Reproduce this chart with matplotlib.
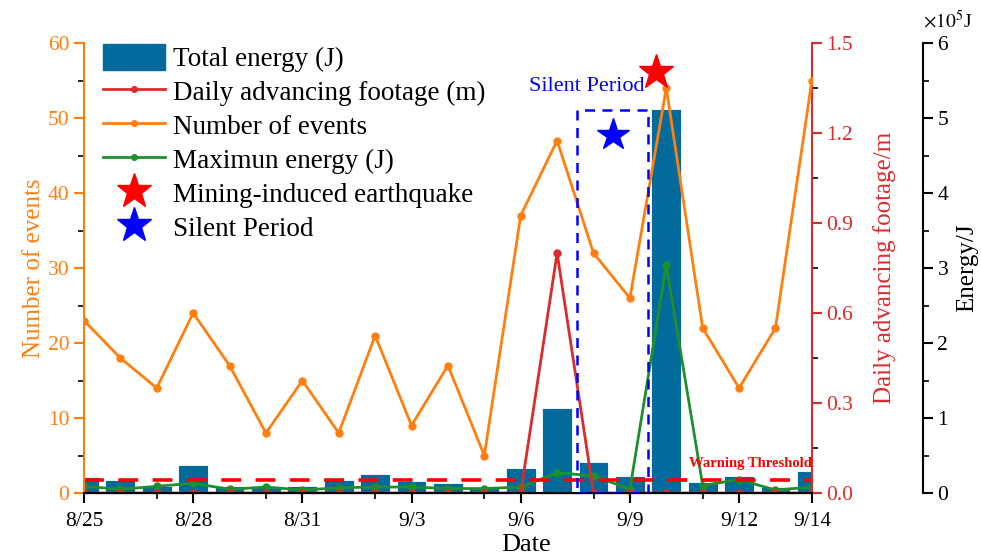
import matplotlib.pyplot as plt
from matplotlib.lines import Line2D
from matplotlib.patches import Patch, Rectangle
from matplotlib.ticker import MultipleLocator, FixedLocator

plt.rcParams['font.family'] = ['Liberation Serif', 'DejaVu Serif']
plt.rcParams['mathtext.fontset'] = 'stix'

# daily data, 8/25 - 9/14
dates = ['8/25', '8/26', '8/27', '8/28', '8/29', '8/30', '8/31', '9/1', '9/2',
         '9/3', '9/4', '9/5', '9/6', '9/7', '9/8', '9/9', '9/10', '9/11',
         '9/12', '9/13', '9/14']
tick_dates = ['8/25', '8/28', '8/31', '9/3', '9/6', '9/9', '9/12', '9/14']
minor_dates = ['8/27', '8/30', '9/2', '9/5', '9/8', '9/11']
events = [23, 18, 14, 24, 17, 8, 15, 8, 21, 9, 17, 5, 37, 47, 32, 26, 54,
          22, 14, 22, 55]
footage = [0, 0, 0, 0, 0, 0, 0, 0, 0, 0, 0, 0, 0, 0.8, 0, 0, 0, 0, 0, 0, 0]
# energies in 1e5 J
max_energy = [0.09, 0.05, 0.09, 0.13, 0.05, 0.08, 0.04, 0.07, 0.08, 0.08,
              0.06, 0.06, 0.08, 0.27, 0.23, 0.05, 3.04, 0.10, 0.18, 0.04, 0.08]
total_energy = [0.22, 0.17, 0.10, 0.37, 0.09, 0.10, 0.09, 0.17, 0.25, 0.16,
                0.13, 0.08, 0.34, 1.13, 0.41, 0.23, 5.12, 0.15, 0.23, 0.08,
                0.29]
warning_threshold = 0.18
earthquake = ('9/10', 56.2)
silent_days = ['9/8', '9/9']

ORANGE = '#ff7f0e'
RED = '#dd2a2a'
GREEN = '#1e8f2e'
BLUE_BAR = '#036a9c'

x = list(range(len(dates)))

fig = plt.figure(figsize=(9.81, 5.59), dpi=100)
ax = fig.add_axes([0.0856, 0.118, 0.742, 0.805])
ax_ft = ax.twinx()
ax_en = ax.twinx()

# layering: energy at the back, events on top
ax_en.set_zorder(1)
ax_ft.set_zorder(2)
ax.set_zorder(3)
ax.patch.set_visible(False)
ax_ft.patch.set_visible(False)

# energy axis
ax_en.bar(x, total_energy, 0.82, color=BLUE_BAR, edgecolor='white',
          linewidth=0.6, label='Total energy (J)')
ax_en.plot(x, max_energy, color=GREEN, lw=2, marker='o', ms=5,
           label='Maximun energy (J)')
ax_en.axhline(warning_threshold, color='red', lw=2.6, dashes=(5.5, 4))
ax_en.set_ylim(0, 6)
ax_en.spines['right'].set_position(('axes', 1.1525))
ax_en.yaxis.set_major_locator(MultipleLocator(1))
ax_en.yaxis.set_minor_locator(MultipleLocator(0.5))
ax_en.set_ylabel('Energy/J', fontsize=18, labelpad=6)
ax_en.text(1.152, 1.025, r'$\times10^5$J', transform=ax_en.transAxes,
           fontsize=14, ha='left', va='bottom')
ax_en.text(20, 0.39, 'Warning Threshold', color='red', fontsize=10.5,
           fontweight='bold', ha='right', va='center')

# footage axis
ax_ft.plot(x, footage, color=RED, lw=2, marker='o', ms=5,
           label='Daily advancing footage (m)')
ax_ft.set_ylim(0, 1.5)
ax_ft.yaxis.set_major_locator(MultipleLocator(0.3))
ax_ft.yaxis.set_minor_locator(MultipleLocator(0.15))
ax_ft.yaxis.set_major_formatter('{x:.1f}')
ax_ft.set_ylabel('Daily advancing footage/m', color=RED, fontsize=18,
                 labelpad=14)
ax_ft.tick_params(axis='y', colors=RED)
ax_ft.spines['right'].set_color(RED)

# events axis
ax.plot(x, events, color=ORANGE, lw=2, marker='o', ms=5,
        label='Number of events')
ax.set_ylim(0, 60)
ax.set_xlim(0, len(dates) - 1)
ax.yaxis.set_major_locator(MultipleLocator(10))
ax.yaxis.set_minor_locator(MultipleLocator(5))
ax.set_ylabel('Number of events', color=ORANGE, fontsize=18, labelpad=2)
ax.tick_params(axis='y', colors=ORANGE)
ax.spines['left'].set_color(ORANGE)
ax.set_xticks([dates.index(d) for d in tick_dates])
ax.set_xticklabels(tick_dates)
ax.xaxis.set_minor_locator(FixedLocator([dates.index(d) for d in minor_dates]))
ax.set_xlabel('Date', fontsize=19, labelpad=2, x=0.607)

# silent period box and markers
s0 = dates.index(silent_days[0]) - 0.45
s1 = dates.index(silent_days[1]) + 0.5
ax.add_patch(Rectangle((s0, 0), s1 - s0, 51.1, fill=False, ec='blue',
                       lw=1.8, ls=(0, (4, 3)), zorder=4))
ax.plot((s0 + s1) / 2, 47.7, marker='*', color='blue', ms=24, mec='blue',
        zorder=5)
ax.text((s0 + s1) / 2 - 0.7, 52.9, 'Silent Period', color='blue',
        fontsize=16, ha='center', va='bottom')
ax.plot(dates.index(earthquake[0]) - 0.28, earthquake[1], marker='*',
        color='red', ms=26, zorder=5, clip_on=False)

for a in (ax, ax_ft, ax_en):
    a.spines['top'].set_visible(False)
    a.tick_params(which='major', direction='out', length=7, width=1.5,
                  labelsize=15.5)
    a.tick_params(which='minor', direction='out', length=4, width=1.2)
ax.tick_params(axis='x', pad=7)
ax_en.spines['left'].set_visible(False)
ax_ft.spines['left'].set_visible(False)
ax.spines['right'].set_visible(False)
for sp in ['left', 'bottom']:
    ax.spines[sp].set_linewidth(1.5)
ax_ft.spines['right'].set_linewidth(1.5)
ax_en.spines['right'].set_linewidth(1.5)

handles = [
    Patch(color=BLUE_BAR, label='Total energy (J)'),
    Line2D([], [], color=RED, lw=2, marker='o', ms=4,
           label='Daily advancing footage (m)'),
    Line2D([], [], color=ORANGE, lw=2, marker='o', ms=4,
           label='Number of events'),
    Line2D([], [], color=GREEN, lw=2, marker='o', ms=4,
           label='Maximun energy (J)'),
    Line2D([], [], color='red', lw=0, marker='*', ms=26,
           label='Mining-induced earthquake'),
    Line2D([], [], color='blue', lw=0, marker='*', ms=26,
           label='Silent Period'),
]
ax.legend(handles=handles, loc='upper left', bbox_to_anchor=(0.0, 1.04),
          frameon=False, fontsize=19.5, handlelength=2.3, handleheight=1.1,
          labelspacing=0.21, handletextpad=0.3, borderaxespad=0.3)

fig.savefig('out.png', dpi=100)
